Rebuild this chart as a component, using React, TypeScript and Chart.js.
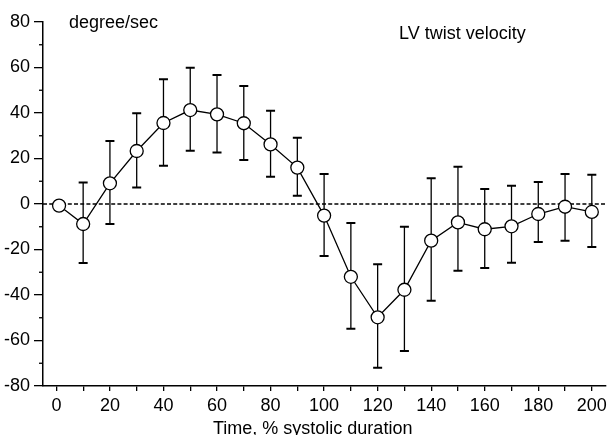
import React, { useEffect, useRef } from "react";
import { Chart, registerables } from "chart.js";

Chart.register(...registerables);

const xValues = [1, 10, 20, 30, 40, 50, 60, 70, 80, 90, 100, 110, 120, 130, 140, 150, 160, 170, 180, 190, 200];
const means = [-0.7, -8.8, 9.1, 23.3, 35.6, 41.3, 39.4, 35.5, 26.2, 16.0, -5.1, -32.0, -49.8, -37.7, -16.1, -8.1, -11.1, -9.8, -4.4, -1.2, -3.5];
const upper = [null, 9.4, 27.7, 39.9, 54.8, 59.9, 56.7, 51.9, 41.0, 29.1, 13.2, -8.4, -26.5, -10.0, 11.3, 16.4, 6.6, 8.0, 9.7, 13.2, 12.9];
const lower = [null, -25.9, -8.8, 7.2, 16.8, 23.4, 22.6, 19.3, 12.0, 3.6, -22.9, -54.8, -72.0, -64.6, -42.5, -29.3, -28.1, -25.8, -16.7, -16.1, -18.9];
const xTicks = [0, 10, 20, 30, 40, 50, 60, 70, 80, 90, 100, 110, 120, 130, 140, 150, 160, 170, 180, 190, 200];
const yMinorTicks = [-70, -50, -30, -10, 10, 30, 50, 70];
const xRange = [-5, 205];
const yRange = [-80, 80];

const FONT = "'Liberation Sans', Arial, sans-serif";

const errorBarsPlugin = {
  id: "errorBars",
  beforeDatasetsDraw(chart: any) {
    const { ctx, scales } = chart;
    const x = scales.x;
    const y = scales.y;
    ctx.save();
    ctx.strokeStyle = "#000";
    xValues.forEach((xv, i) => {
      const u = upper[i];
      const l = lower[i];
      if (u == null || l == null) return;
      const px = x.getPixelForValue(xv);
      const pu = y.getPixelForValue(u);
      const pl = y.getPixelForValue(l);
      ctx.lineWidth = 1.3;
      ctx.beginPath();
      ctx.moveTo(px, pu);
      ctx.lineTo(px, pl);
      ctx.stroke();
      ctx.lineWidth = 2;
      ctx.beginPath();
      ctx.moveTo(px - 4.5, pu);
      ctx.lineTo(px + 4.5, pu);
      ctx.moveTo(px - 4.5, pl);
      ctx.lineTo(px + 4.5, pl);
      ctx.stroke();
    });
    ctx.restore();
  },
};

const decorPlugin = {
  id: "decor",
  afterDraw(chart: any) {
    const { ctx, scales, chartArea } = chart;
    const y = scales.y;
    ctx.save();
    ctx.strokeStyle = "#000";
    ctx.lineWidth = 1.3;
    yMinorTicks.forEach((v) => {
      const py = y.getPixelForValue(v);
      ctx.beginPath();
      ctx.moveTo(chartArea.left - 4, py);
      ctx.lineTo(chartArea.left, py);
      ctx.stroke();
    });
    ctx.fillStyle = "#000";
    ctx.textBaseline = "alphabetic";
    ctx.textAlign = "left";
    ctx.font = `18px ${FONT}`;
    ctx.fillText("degree/sec", 69, 28);
    ctx.fillText("LV twist velocity", 399, 39);
    ctx.fillText("Time, % systolic duration", 213, 434);
    ctx.restore();
  },
};

export default function App() {
  const canvasRef = useRef<HTMLCanvasElement | null>(null);

  useEffect(() => {
    document.body.style.margin = "0";
    document.body.style.overflow = "hidden";
    const canvas = canvasRef.current;
    if (!canvas) return;
    const chart = new Chart(canvas, {
      type: "line",
      data: {
        datasets: [
          {
            label: "LV twist velocity",
            data: xValues.map((x, i) => ({ x, y: means[i] })),
            borderColor: "#000",
            borderWidth: 1.3,
            pointRadius: 6.5,
            pointHoverRadius: 6.5,
            pointBackgroundColor: "#fff",
            pointBorderColor: "#000",
            pointBorderWidth: 1.3,
            tension: 0,
            order: 0,
          },
          {
            label: "zero",
            data: [
              { x: xRange[0], y: 0 },
              { x: xRange[1], y: 0 },
            ],
            borderColor: "#000",
            borderWidth: 1.3,
            borderDash: [4, 2.2],
            pointRadius: 0,
            order: 1,
          },
        ],
      },
      options: {
        animation: false,
        responsive: true,
        maintainAspectRatio: false,
        layout: { padding: { top: 22, right: 3, left: 0, bottom: 0 } },
        plugins: {
          legend: { display: false },
          tooltip: { enabled: false },
          title: { display: false },
        },
        events: [],
        scales: {
          x: {
            type: "linear",
            min: xRange[0],
            max: xRange[1],
            afterFit: (scale: any) => {
              scale.height = 49;
            },
            afterBuildTicks: (scale: any) => {
              scale.ticks = xTicks.map((v) => ({ value: v }));
            },
            ticks: {
              autoSkip: false,
              maxRotation: 0,
              padding: 4,
              color: "#000",
              font: { family: FONT, size: 18 },
              callback: (v: any) => (Number(v) % 20 === 0 ? String(v) : ""),
            },
            grid: {
              display: true,
              drawOnChartArea: false,
              drawTicks: true,
              tickLength: 5,
              color: "#000",
              lineWidth: 1.3,
            },
            border: { display: true, color: "#000", width: 1.5 },
          },
          y: {
            type: "linear",
            min: yRange[0],
            max: yRange[1],
            afterFit: (scale: any) => {
              scale.width = 43;
            },
            ticks: {
              stepSize: 20,
              padding: 4,
              color: "#000",
              font: { family: FONT, size: 18 },
            },
            grid: {
              display: true,
              drawOnChartArea: false,
              drawTicks: true,
              tickLength: 9,
              color: "#000",
              lineWidth: 1.3,
            },
            border: { display: true, color: "#000", width: 1.5 },
          },
        },
      },
      plugins: [errorBarsPlugin, decorPlugin],
    } as any);
    return () => chart.destroy();
  }, []);

  return (
    <div style={{ width: 613, height: 435, position: "relative" }}>
      <canvas ref={canvasRef} />
    </div>
  );
}
